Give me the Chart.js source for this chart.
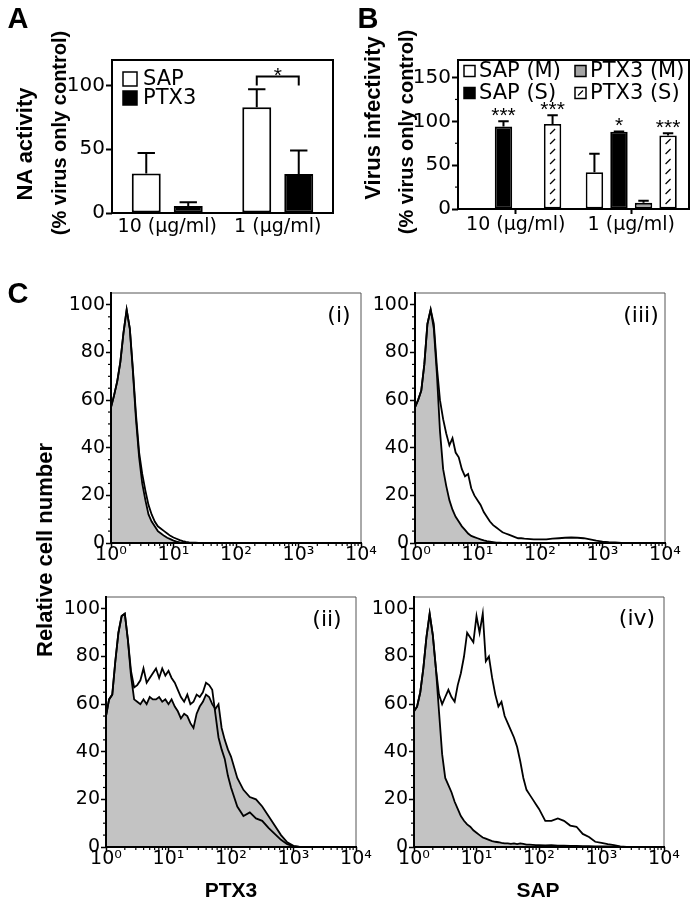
<!DOCTYPE html>
<html>
<head>
<meta charset="utf-8">
<script src="https://cdn.jsdelivr.net/npm/chart.js@4.4.1/dist/chart.umd.min.js"></script>
<style>
  body { margin: 0; background: #fff; }
  #page { position: relative; width: 694px; height: 905px; overflow: hidden; font-family: "Liberation Sans", Arial, sans-serif; color: #000; }
  #page canvas { position: absolute; left: 0; top: 0; }
  .t { position: absolute; white-space: nowrap; line-height: 1; transform: translate(-50%, -50%); }
  .b { font-weight: bold; }
  .v { transform: translate(-50%, -50%) rotate(-90deg); }
  .n { font-family: "DejaVu Sans", sans-serif; }
</style>
</head>
<body>
<div id="page">
  <canvas id="chartA" width="694" height="905"></canvas>
  <canvas id="chartB" width="694" height="905"></canvas>
  <canvas id="hist1" width="694" height="905"></canvas>
  <canvas id="hist2" width="694" height="905"></canvas>
  <canvas id="hist3" width="694" height="905"></canvas>
  <canvas id="hist4" width="694" height="905"></canvas>

  <div class="t b" style="left:18px;top:18px;font-size:29px">A</div>
  <div class="t b" style="left:368px;top:18px;font-size:29px">B</div>
  <div class="t b" style="left:18px;top:293px;font-size:29px">C</div>

  <div class="t b v" style="left:25px;top:144px;font-size:22px">NA activity</div>
  <div class="t b v" style="left:59px;top:133px;font-size:20px">(% virus only control)</div>
  <div class="t b v" style="left:373px;top:118px;font-size:22px">Virus infectivity</div>
  <div class="t b v" style="left:406px;top:132px;font-size:20px">(% virus only control)</div>
  <div class="t b v" style="left:45px;top:550px;font-size:22px">Relative cell number</div>
  <div class="t b" style="left:231px;top:889px;font-size:21px">PTX3</div>
  <div class="t b" style="left:538px;top:889px;font-size:21px">SAP</div>

  <div class="t n" style="left:339px;top:315px;font-size:22px">(i)</div>
  <div class="t n" style="left:327px;top:619px;font-size:22px">(ii)</div>
  <div class="t n" style="left:641px;top:315px;font-size:22px">(iii)</div>
  <div class="t n" style="left:637px;top:618px;font-size:22px">(iv)</div>
</div>

<script>
// ---- data ----
const doseLabels = ['10 (µg/ml)', '1 (µg/ml)'];

// A: NA activity (% virus only control)
const naSap = [31, 83];
const naSapErr = [16, 14];
const naPtx3 = [5.5, 30.5];
const naPtx3Err = [3, 18.5];

// B: virus infectivity (% virus only control)
const infSapM = [0, 42];
const infSapMErr = [0, 21];
const infSapS = [94, 88];
const infSapSErr = [6, 0.5];
const infPtx3M = [0, 7];
const infPtx3MErr = [0, 2.5];
const infPtx3S = [97, 84];
const infPtx3SErr = [10, 2.5];
const infSapSStars = ['***', '*'];
const infPtx3SStars = ['***', '***'];

// C: flow cytometry histograms, fluorescence channel vs relative cell number
const fluor = [1, 1.12, 1.26, 1.41, 1.58, 1.78, 2, 2.24, 2.51, 2.82,
  3.16, 3.55, 3.98, 4.47, 5.01, 5.62, 6.31, 7.08, 7.94, 8.91,
  10, 11.2, 12.6, 14.1, 15.8, 17.8, 20, 22.4, 25.1, 28.2,
  31.6, 35.5, 39.8, 44.7, 50.1, 56.2, 63.1, 70.8, 79.4, 89.1,
  100,
  126, 158, 200, 251, 316, 398, 501, 631, 794, 1000,
  1259, 1585, 1995, 2512, 3162,
  10000];

// (i) PTX3 antibody, cells alone
const hist1Control = [57, 62, 68, 76, 88, 98, 90, 72, 52, 36,
  25, 18, 12, 9, 7, 5, 4, 3, 2.2, 1.6,
  1.0, 0.6, 0.3, 0.1, 0, 0, 0, 0, 0, 0,
  0, 0, 0, 0, 0, 0, 0, 0, 0, 0,
  0,
  0, 0, 0, 0, 0, 0, 0, 0, 0, 0,
  0, 0, 0, 0, 0,
  0];
const hist1Stained = [57, 62, 68, 76, 88, 98, 90, 73, 54, 38,
  29, 22, 16, 12, 9, 7, 6, 5, 4, 3,
  2.3, 1.8, 1.2, 0.8, 0.5, 0.3, 0.2, 0.1, 0, 0,
  0, 0, 0, 0, 0, 0, 0, 0, 0, 0,
  0,
  0, 0, 0, 0, 0, 0, 0, 0, 0, 0,
  0, 0, 0, 0, 0,
  0];

// (ii) PTX3 antibody, cells + virus
const hist2Control = [55, 62, 64, 78, 90, 97, 98, 87, 72, 62,
  61, 60, 62, 60, 63, 62, 62, 63, 61, 62,
  60, 62, 59, 57, 54, 56, 55, 52, 50, 56,
  59, 61, 64, 63, 60, 58, 60, 50, 45, 41,
  38,
  29, 24, 21, 20, 17, 13, 9, 5, 2, 0.5,
  0, 0, 0, 0, 0,
  0];
const hist2Stained = [55, 62, 64, 78, 90, 97, 98, 87, 74, 67,
  68, 70, 75, 69, 71, 73, 75, 71, 75, 72,
  74, 71, 69, 66, 63, 61, 64, 60, 61, 64,
  63, 65, 69, 68, 66, 56, 46, 41, 37, 30,
  25,
  17, 13, 14.5, 12, 11, 8, 5.5, 3, 1.2, 0.3,
  0, 0, 0, 0, 0,
  0];

// (iii) SAP antibody, cells alone
const hist3Control = [57, 60, 64, 75, 92, 98, 90, 71, 47, 31,
  24, 18, 14, 11, 9, 7, 5.5, 4, 3, 2.5,
  2, 1.5, 1.1, 0.8, 0.6, 0.4, 0.2, 0.1, 0, 0,
  0, 0, 0, 0, 0, 0, 0, 0, 0, 0,
  0,
  0, 0, 0, 0, 0, 0, 0, 0, 0, 0,
  0, 0, 0, 0, 0,
  0];
const hist3Stained = [57, 60, 64, 75, 92, 98, 92, 74, 60, 52,
  46, 41, 44, 38, 36, 31, 28, 29, 23, 20,
  18, 16, 13, 11, 9, 7.5, 6.5, 5.5, 4.5, 4,
  3.5, 3, 2.5, 2, 2, 1.8, 1.7, 1.6, 1.5, 1.5,
  1.5,
  1.5, 1.8, 2.0, 2.2, 2.3, 2.2, 2.0, 1.5, 1.0, 0.6,
  0.4, 0.3, 0, 0, 0,
  0];

// (iv) SAP antibody, cells + virus
const hist4Control = [57, 59, 65, 75, 88, 98, 89, 75, 57, 39,
  29, 26, 23, 19, 16, 13, 11, 9.5, 8.5, 7,
  6, 5, 4, 3.5, 3, 2.5, 2.2, 2, 1.7, 1.5,
  1.5, 1.3, 1.5, 1.2, 1.5, 1.3, 1, 1, 0.9, 0.8,
  0.8,
  0.7, 0.8, 0.6, 0.6, 0.5, 0.5, 0.4, 0.4, 0.3, 0.3,
  0.2, 0.1, 0, 0, 0,
  0];
const hist4Stained = [57, 59, 65, 75, 88, 98, 89, 75, 64, 60,
  63, 66, 63, 61, 68, 73, 80, 90, 88, 86,
  97, 90, 98, 78, 80, 71, 64, 59, 61, 55,
  52, 49, 46, 42, 36, 29, 24, 22, 20, 18,
  16,
  11, 11, 12, 11, 9, 8.5, 5.5, 4.2, 2.2, 1.7,
  1.2, 0.8, 0.3, 0, 0,
  0];

const decadeTicks = [1, 10, 100, 1000, 10000];
const decadeLabels = ['10⁰', '10¹', '10²', '10³', '10⁴'];
const histMajorY = [0, 20, 40, 60, 80, 100];

// ---- layout ----
const PAGE_W = 694, PAGE_H = 905;
const FONT = '"Liberation Sans", Arial, sans-serif';
const TICK_FONT = '"DejaVu Sans", sans-serif';
Chart.defaults.font.family = TICK_FONT;
Chart.defaults.color = '#000';

const minorDecades = [];
for (const d of [1, 10, 100, 1000]) for (let m = 2; m <= 9; m++) minorDecades.push(m * d);
const histMinorY = [];
for (let v = 5; v <= 100; v += 5) if (v % 20) histMinorY.push(v);

function padFor(area, yW, xH) {
  return { left: area.left - yW, top: area.top, right: PAGE_W - area.right, bottom: PAGE_H - area.bottom - xH };
}

// error bars, hatching, stars, brackets, frame, minor ticks, legend
const figurePlugin = {
  id: 'figure',
  afterDatasetsDraw(chart, args, opts) {
    const ctx = chart.ctx;
    const yScale = chart.scales.y;
    ctx.save();
    chart.data.datasets.forEach((ds, di) => {
      const meta = chart.getDatasetMeta(di);
      if (meta.type !== 'bar') return;
      meta.data.forEach((bar, i) => {
        if (ds.hatch && ds.data[i] > 0) {
          ctx.save();
          ctx.beginPath();
          ctx.rect(bar.x - bar.width / 2 + 2, bar.y + 2, bar.width - 4, bar.base - bar.y - 4);
          ctx.clip();
          ctx.strokeStyle = '#000';
          ctx.lineWidth = 1.3;
          for (let yy = bar.base - 7; yy > bar.y + 3; yy -= 10) {
            ctx.beginPath();
            ctx.moveTo(bar.x - 2.5, yy + 2.5);
            ctx.lineTo(bar.x + 2.5, yy - 2.5);
            ctx.stroke();
          }
          ctx.restore();
        }
        const err = ds.errors ? ds.errors[i] : 0;
        const top = yScale.getPixelForValue(ds.data[i] + err);
        if (err) {
          const cap = bar.width * 0.3;
          ctx.strokeStyle = '#000';
          ctx.lineWidth = 2;
          ctx.beginPath();
          ctx.moveTo(bar.x, bar.y);
          ctx.lineTo(bar.x, top);
          ctx.moveTo(bar.x - cap, top);
          ctx.lineTo(bar.x + cap, top);
          ctx.stroke();
        }
        if (ds.stars && ds.stars[i]) {
          ctx.fillStyle = '#000';
          ctx.font = '21px ' + FONT;
          ctx.textAlign = 'center';
          ctx.textBaseline = 'alphabetic';
          ctx.fillText(ds.stars[i], bar.x, top + 1);
        }
      });
    });
    (opts.brackets || []).forEach(b => {
      const x1 = chart.getDatasetMeta(b.from[0]).data[b.from[1]].x;
      const x2 = chart.getDatasetMeta(b.to[0]).data[b.to[1]].x;
      const yb = yScale.getPixelForValue(b.y);
      const yd = yScale.getPixelForValue(b.drop);
      ctx.strokeStyle = '#000';
      ctx.lineWidth = 2;
      ctx.beginPath();
      ctx.moveTo(x1, yd); ctx.lineTo(x1, yb); ctx.lineTo(x2, yb); ctx.lineTo(x2, yd);
      ctx.stroke();
      ctx.fillStyle = '#000';
      ctx.font = '21px ' + FONT;
      ctx.textAlign = 'center';
      ctx.textBaseline = 'alphabetic';
      ctx.fillText(b.text, (x1 + x2) / 2, yb + 5);
    });
    ctx.restore();
  },
  afterDraw(chart, args, opts) {
    const ctx = chart.ctx;
    const a = chart.chartArea;
    ctx.save();
    const f = opts.frame;
    if (f) {
      ctx.lineCap = 'square';
      ctx.strokeStyle = f.edgeColor; ctx.lineWidth = f.edgeWidth;
      ctx.beginPath();
      ctx.moveTo(a.left, a.top); ctx.lineTo(a.right, a.top); ctx.lineTo(a.right, a.bottom);
      ctx.stroke();
      ctx.strokeStyle = f.axisColor; ctx.lineWidth = f.axisWidth;
      ctx.beginPath();
      ctx.moveTo(a.left, a.top); ctx.lineTo(a.left, a.bottom); ctx.lineTo(a.right, a.bottom);
      ctx.stroke();
    }
    ctx.strokeStyle = '#000';
    ctx.lineWidth = 1.2;
    ctx.lineCap = 'butt';
    (opts.minorX || []).forEach(v => {
      const px = chart.scales.x.getPixelForValue(v);
      ctx.beginPath(); ctx.moveTo(px, a.bottom); ctx.lineTo(px, a.bottom + 3); ctx.stroke();
    });
    (opts.minorY || []).forEach(v => {
      const py = chart.scales.y.getPixelForValue(v);
      ctx.beginPath(); ctx.moveTo(a.left, py); ctx.lineTo(a.left - 3, py); ctx.stroke();
    });
    const L = opts.legend;
    if (L) {
      ctx.font = L.font + 'px ' + TICK_FONT;
      L.rows.forEach((row, r) => row.forEach((di, c) => {
        const ds = chart.data.datasets[di];
        const bx = a.left + L.x + c * L.colW;
        const cy = a.top + L.y + r * L.rowH;
        ctx.fillStyle = ds.backgroundColor;
        ctx.fillRect(bx, cy - L.box / 2, L.box, L.box);
        ctx.strokeStyle = '#000';
        ctx.lineWidth = 1.5;
        ctx.strokeRect(bx, cy - L.box / 2, L.box, L.box);
        if (ds.hatch) {
          ctx.lineWidth = 1.2;
          ctx.beginPath();
          ctx.moveTo(bx + L.box / 2 - 2.5, cy + 2.5);
          ctx.lineTo(bx + L.box / 2 + 2.5, cy - 2.5);
          ctx.stroke();
        }
        ctx.fillStyle = '#000';
        ctx.textAlign = 'left';
        ctx.textBaseline = 'middle';
        ctx.fillText(ds.label, bx + L.box + L.gap, cy + 1);
      }));
    }
    ctx.restore();
  }
};
Chart.register(figurePlugin);

const barFrame = { edgeColor: '#000', edgeWidth: 2, axisColor: '#000', axisWidth: 2 };
const histFrame = { edgeColor: '#555', edgeWidth: 1, axisColor: '#000', axisWidth: 2 };

// ---- A ----
const areaA = { left: 112, top: 60, right: 333, bottom: 213 };
new Chart(document.getElementById('chartA'), {
  type: 'bar',
  data: {
    labels: doseLabels,
    datasets: [
      { label: 'SAP', data: naSap, errors: naSapErr, backgroundColor: '#fff', borderColor: '#000', borderWidth: 2, borderSkipped: false },
      { label: 'PTX3', data: naPtx3, errors: naPtx3Err, backgroundColor: '#000', borderColor: '#000', borderWidth: 2, borderSkipped: false }
    ]
  },
  options: {
    responsive: false, animation: false, devicePixelRatio: 1, events: [],
    layout: { padding: padFor(areaA, 50, 40) },
    datasets: { bar: { categoryPercentage: 0.76, barPercentage: 0.69 } },
    plugins: {
      legend: { display: false }, tooltip: { enabled: false },
      figure: {
        frame: barFrame,
        brackets: [{ from: [0, 1], to: [1, 1], y: 107, drop: 100, text: '*' }],
        legend: { rows: [[0], [1]], x: 11, y: 19, rowH: 19, colW: 0, box: 14, gap: 6, font: 21 }
      }
    },
    scales: {
      x: {
        afterFit: s => { s.height = 40; },
        ticks: { font: { size: 19 }, padding: 3, maxRotation: 0 },
        grid: { display: false, drawTicks: false }, border: { display: false }
      },
      y: {
        min: 0, max: 120,
        afterBuildTicks: s => { s.ticks = [0, 50, 100].map(v => ({ value: v })); },
        afterFit: s => { s.width = 50; },
        ticks: { font: { size: 20 }, padding: 1 },
        grid: { drawOnChartArea: false, tickLength: 6, tickWidth: 2, tickColor: '#000' },
        border: { display: false }
      }
    }
  }
});

// ---- B ----
const areaB = { left: 458, top: 60, right: 689, bottom: 209 };
new Chart(document.getElementById('chartB'), {
  type: 'bar',
  data: {
    labels: doseLabels,
    datasets: [
      { label: 'SAP (M)', data: infSapM, errors: infSapMErr, backgroundColor: '#fff', borderColor: '#000', borderWidth: 1.8, borderSkipped: false },
      { label: 'SAP (S)', data: infSapS, errors: infSapSErr, stars: infSapSStars, backgroundColor: '#000', borderColor: '#000', borderWidth: 1.8, borderSkipped: false },
      { label: 'PTX3 (M)', data: infPtx3M, errors: infPtx3MErr, backgroundColor: '#a4a4a4', borderColor: '#000', borderWidth: 1.8, borderSkipped: false },
      { label: 'PTX3 (S)', data: infPtx3S, errors: infPtx3SErr, stars: infPtx3SStars, hatch: true, backgroundColor: '#fff', borderColor: '#000', borderWidth: 1.8, borderSkipped: false }
    ]
  },
  options: {
    responsive: false, animation: false, devicePixelRatio: 1, events: [],
    layout: { padding: padFor(areaB, 50, 40) },
    datasets: { bar: { categoryPercentage: 0.85, barPercentage: 0.71 } },
    plugins: {
      legend: { display: false }, tooltip: { enabled: false },
      figure: {
        frame: barFrame,
        minorY: [25, 75, 125],
        legend: { rows: [[0, 2], [1, 3]], x: 6, y: 11, rowH: 22, colW: 111, box: 11, gap: 4, font: 21 }
      }
    },
    scales: {
      x: {
        afterFit: s => { s.height = 40; },
        ticks: { font: { size: 19 }, padding: 0, maxRotation: 0 },
        grid: { drawOnChartArea: false, offset: false, tickLength: 5, tickWidth: 2, tickColor: '#000' },
        border: { display: false }
      },
      y: {
        min: 0, max: 170,
        afterBuildTicks: s => { s.ticks = [0, 50, 100, 150].map(v => ({ value: v })); },
        afterFit: s => { s.width = 50; },
        ticks: { font: { size: 20 }, padding: 1 },
        grid: { drawOnChartArea: false, tickLength: 6, tickWidth: 2, tickColor: '#000' },
        border: { display: false }
      }
    }
  }
});

// ---- C ----
function histogramChart(canvasId, area, stained, control) {
  new Chart(document.getElementById(canvasId), {
    type: 'line',
    data: {
      datasets: [
        { label: 'stained', data: fluor.map((x, i) => ({ x, y: stained[i] })), borderColor: '#000', borderWidth: 1.8, pointRadius: 0, tension: 0, fill: false },
        { label: 'control', data: fluor.map((x, i) => ({ x, y: control[i] })), borderColor: '#000', borderWidth: 1.8, pointRadius: 0, tension: 0, fill: 'origin', backgroundColor: '#c3c3c3' }
      ]
    },
    options: {
      responsive: false, animation: false, devicePixelRatio: 1, events: [],
      layout: { padding: padFor(area, 45, 40) },
      plugins: {
        legend: { display: false }, tooltip: { enabled: false },
        figure: { frame: histFrame, minorX: minorDecades, minorY: histMinorY }
      },
      scales: {
        x: {
          type: 'logarithmic', min: 1, max: 10000,
          afterBuildTicks: s => { s.ticks = decadeTicks.map(v => ({ value: v })); },
          afterFit: s => { s.height = 40; },
          ticks: { callback: v => decadeLabels[decadeTicks.indexOf(v)], font: { size: 19 }, padding: -4, maxRotation: 0, autoSkip: false },
          grid: { drawOnChartArea: false, tickLength: 5, tickWidth: 1.5, tickColor: '#000' },
          border: { display: false }
        },
        y: {
          min: 0, max: 105,
          afterBuildTicks: s => { s.ticks = histMajorY.map(v => ({ value: v })); },
          afterFit: s => { s.width = 45; },
          ticks: { font: { size: 19 }, padding: 1, autoSkip: false },
          grid: { drawOnChartArea: false, tickLength: 5, tickWidth: 1.5, tickColor: '#000' },
          border: { display: false }
        }
      }
    }
  });
}

histogramChart('hist1', { left: 111, top: 293, right: 361, bottom: 543 }, hist1Stained, hist1Control);
histogramChart('hist2', { left: 106, top: 597, right: 356, bottom: 847 }, hist2Stained, hist2Control);
histogramChart('hist3', { left: 415, top: 293, right: 665, bottom: 543 }, hist3Stained, hist3Control);
histogramChart('hist4', { left: 414, top: 597, right: 664, bottom: 847 }, hist4Stained, hist4Control);
</script>
</body>
</html>
